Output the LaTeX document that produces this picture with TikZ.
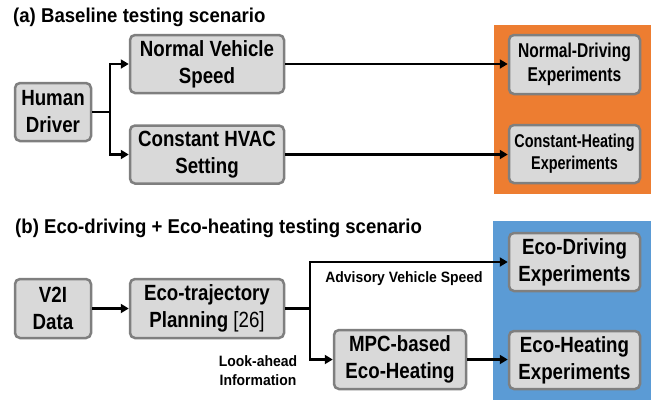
\documentclass[tikz,border=0pt]{standalone}
\usepackage{fontspec}
\setmainfont{Liberation Sans}
\newfontfamily\boxfont{Liberation Sans}[FakeStretch=0.85]
\newfontfamily\narrowfont{Liberation Sans}[FakeStretch=0.78]
\newfontfamily\titlefont{Liberation Sans}[FakeStretch=0.93]
\usetikzlibrary{arrows.meta}
\definecolor{boxfill}{HTML}{D9D9D9}
\definecolor{boxline}{HTML}{7F7F7F}
\definecolor{orangebg}{HTML}{ED7D31}
\definecolor{bluebg}{HTML}{5B9BD5}
\begin{document}
\begin{tikzpicture}[x=1pt,y=-1pt,
  blk/.style={draw=boxline, fill=boxfill, line width=2.5pt, rounded corners=5pt,
    align=center, inner sep=0pt, font=\boxfont\bfseries\fontsize{22}{27}\selectfont},
  conn/.style={line width=2.7pt, draw=black},
  arr/.style={conn, -{Triangle[length=8pt,width=9pt]}},
  ttl/.style={anchor=west, inner sep=0pt, font=\titlefont\bfseries\fontsize{20}{24}\selectfont},
  lbl/.style={align=center, inner sep=0pt, font=\titlefont\bfseries\fontsize{15}{19}\selectfont}]
\useasboundingbox (0,0) rectangle (659,400);
% backgrounds
\fill[orangebg] (494,25) rectangle (651,194);
\fill[bluebg] (493,221) rectangle (651,400);
% titles
\node[ttl] (ta) at (13,17) {(a) Baseline testing scenario};
\node[ttl] (tb) at (15,228) {(b) Eco-driving + Eco-heating testing scenario};
% (a) boxes
\node[blk, minimum width=76pt, minimum height=58pt] (hd) at (53,112) {Human\\Driver};
\node[blk, minimum width=154pt, minimum height=58pt] (nvs) at (207,64) {Normal Vehicle\\Speed};
\node[blk, minimum width=154pt, minimum height=58pt] (chs) at (207,154.5) {Constant HVAC\\Setting};
\node[blk, minimum width=131pt, minimum height=59pt, font=\narrowfont\bfseries\fontsize{20}{24}\selectfont] (nde) at (574.5,64.5) {Normal-Driving\\Experiments};
\node[blk, minimum width=131pt, minimum height=58pt, font=\narrowfont\bfseries\fontsize{18.5}{22}\selectfont] (che) at (574.5,154) {Constant-Heating\\Experiments};
% (b) boxes
\node[blk, minimum width=76pt, minimum height=59pt] (v2i) at (53,308.5) {V2I\\Data};
\node[blk, minimum width=154pt, minimum height=59pt] (etp) at (207,308.5) {Eco-trajectory\\Planning {\mdseries[26]}};
\node[blk, minimum width=132pt, minimum height=59pt] (mpc) at (400,359.5) {MPC-based\\Eco-Heating};
\node[blk, minimum width=131pt, minimum height=58pt] (ede) at (574.5,262) {Eco-Driving\\Experiments};
\node[blk, minimum width=131pt, minimum height=58pt] (ehe) at (574.5,360) {Eco-Heating\\Experiments};
% connectors (a)
\coordinate (sa) at (110,112);
\draw[conn] (hd.east) -- (sa);
\draw[arr] (sa) |- (nvs.west);
\draw[arr] (sa) |- (chs.west);
\draw[arr] (nvs.east) -- (nvs.east -| nde.west);
\draw[arr] (chs.east) -- (chs.east -| che.west);
% connectors (b)
\draw[arr] (v2i.east) -- (etp.west);
\coordinate (sb) at (310,308.5);
\draw[conn] (etp.east) -- (sb);
\draw[arr] (sb) |- (ede.west);
\draw[arr] (sb) |- (mpc.west);
\draw[arr] (mpc.east) -- (mpc.east -| ehe.west);
% labels
\node[lbl] (adv) at (404,279) {Advisory Vehicle Speed};
\node[lbl] (lah) at (258,371) {Look-ahead\\Information};
\end{tikzpicture}
\end{document}
